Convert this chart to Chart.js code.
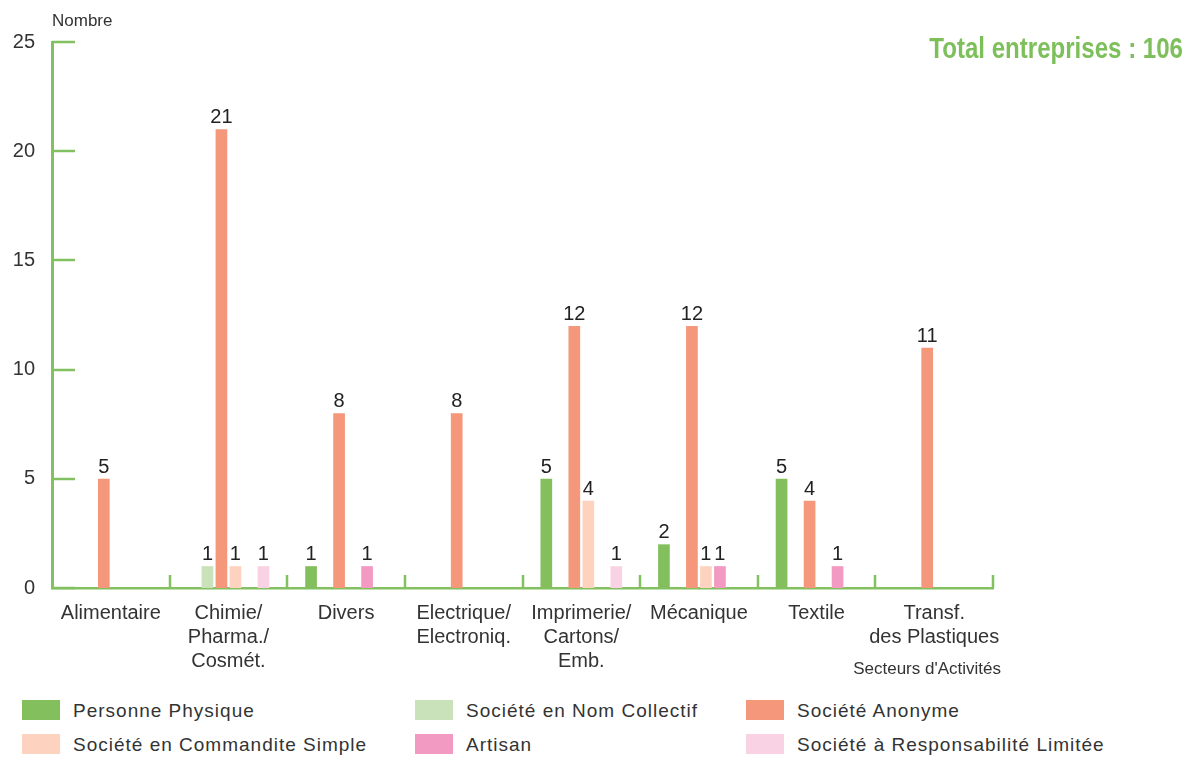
<!DOCTYPE html>
<html><head><meta charset="utf-8">
<script src="https://cdn.jsdelivr.net/npm/chart.js@4"></script>
<style>
html,body{margin:0;padding:0;background:#fff;}
#wrap{position:relative;width:1188px;height:758px;overflow:hidden;background:#fff;}
#c{position:absolute;left:0;top:0;}
.leg{position:absolute;font-family:"Liberation Sans",Arial,sans-serif;font-size:19px;letter-spacing:1px;color:#333;white-space:nowrap;line-height:20px;}
.sw{position:absolute;width:38px;height:20px;}
</style></head><body>
<div id="wrap"><canvas id="c" width="1188" height="690"></canvas><div id="legend"></div></div>
<script>
const categories = [["Alimentaire"],["Chimie/","Pharma./","Cosmét."],["Divers"],["Electrique/","Electroniq."],["Imprimerie/","Cartons/","Emb."],["Mécanique"],["Textile"],["Transf.","des Plastiques"]];
const seriesNames = ["Personne Physique","Société en Nom Collectif","Société Anonyme","Société en Commandite Simple","Artisan","Société à Responsabilité Limitée"];
const personnePhysique = [null,null,1,null,5,2,5,null];
const societeNomCollectif = [null,1,null,null,null,null,null,null];
const societeAnonyme = [5,21,8,8,12,12,4,11];
const societeCommanditeSimple = [null,1,null,null,4,1,null,null];
const artisan = [null,null,1,null,null,1,1,null];
const societeResponsabiliteLimitee = [null,1,null,null,1,null,null,null];
const yMin = 0, yMax = 25, yStep = 5;
const totalLabel = "Total entreprises : 106";
const yAxisTitle = "Nombre";
const xAxisTitle = "Secteurs d'Activités";

const seriesValues = [personnePhysique, societeNomCollectif, societeAnonyme, societeCommanditeSimple, artisan, societeResponsabiliteLimitee];
const seriesColors = ["#84bf5e","#c9e2b9","#f5977a","#fdd3bf","#f39ac2","#f9d3e3"];
const axisColor = "#82c060";
const fontMain = '"Liberation Sans", Arial, sans-serif';

const decorPlugin = {
  id: 'decor',
  afterDatasetsDraw(chart){
    const ctx = chart.ctx;
    ctx.save();
    ctx.fillStyle = '#222';
    ctx.font = '20px ' + fontMain;
    ctx.textAlign = 'center';
    ctx.textBaseline = 'alphabetic';
    chart.data.datasets.forEach((ds, di) => {
      const meta = chart.getDatasetMeta(di);
      meta.data.forEach((el, i) => {
        const v = ds.data[i];
        if (v === null || v === undefined) return;
        ctx.fillText(String(v), el.x, el.y - 6);
      });
    });
    ctx.restore();
  },
  afterDraw(chart){
    const ctx = chart.ctx, xs = chart.scales.x, ys = chart.scales.y, ca = chart.chartArea;
    ctx.save();
    ctx.strokeStyle = axisColor;
    ctx.lineWidth = 2.5;
    ys.ticks.forEach((t, i) => {
      const py = Math.round(ys.getPixelForTick(i));
      ctx.beginPath(); ctx.moveTo(ca.left, py); ctx.lineTo(ca.left + 23, py); ctx.stroke();
    });
    for (let i = 0; i < categories.length; i++) {
      const px = Math.round(xs.getPixelForValue(i + 0.5));
      ctx.beginPath(); ctx.moveTo(px, ca.bottom); ctx.lineTo(px, ca.bottom - 13); ctx.stroke();
    }
    ctx.fillStyle = '#333';
    ctx.font = '17px ' + fontMain;
    ctx.textAlign = 'left';
    ctx.textBaseline = 'alphabetic';
    ctx.fillText(yAxisTitle, ca.left, 26);
    ctx.textAlign = 'right';
    ctx.fillText(xAxisTitle, ca.right + 8, 674);
    ctx.fillStyle = '#7dbf5a';
    ctx.font = 'bold 29px ' + fontMain;
    ctx.textAlign = 'right';
    ctx.translate(1183, 58);
    ctx.scale(0.83, 1);
    ctx.fillText(totalLabel, 0, 0);
    ctx.restore();
  }
};

const chart = new Chart(document.getElementById('c'), {
  type: 'bar',
  data: {
    labels: categories,
    datasets: seriesNames.map((n, i) => ({
      label: n,
      data: seriesValues[i],
      backgroundColor: seriesColors[i],
      categoryPercentage: 0.714,
      barPercentage: 0.835
    }))
  },
  options: {
    responsive: false,
    animation: false,
    devicePixelRatio: 1,
    layout: { padding: { top: 42, right: 195, left: 0, bottom: 0 } },
    plugins: { legend: { display: false }, tooltip: { enabled: false } },
    scales: {
      x: {
        grid: { display: false },
        border: { display: true, color: axisColor, width: 2.5 },
        ticks: { color: '#333', font: { family: fontMain, size: 20, lineHeight: 1.2 }, padding: 5, maxRotation: 0, autoSkip: false },
        afterFit(s){ s.height = 102; }
      },
      y: {
        min: yMin, max: yMax,
        grid: { display: false },
        border: { display: true, color: axisColor, width: 3 },
        ticks: { stepSize: yStep, color: '#333', font: { family: fontMain, size: 20 }, padding: 9 },
        afterFit(s){ s.width = 52; }
      }
    }
  },
  plugins: [decorPlugin]
});

// HTML legend built from the datasets
const legendEl = document.getElementById('legend');
const colLeft = [22, 415, 746], rowTop = [700, 734];
chart.data.datasets.forEach((ds, i) => {
  const col = i % 3, row = Math.floor(i / 3);
  const sw = document.createElement('div');
  sw.className = 'sw';
  sw.style.left = colLeft[col] + 'px';
  sw.style.top = rowTop[row] + 'px';
  sw.style.background = ds.backgroundColor;
  legendEl.appendChild(sw);
  const t = document.createElement('div');
  t.className = 'leg';
  t.style.left = (colLeft[col] + 51) + 'px';
  t.style.top = (rowTop[row] + 1) + 'px';
  t.textContent = ds.label;
  legendEl.appendChild(t);
});
</script>
</body></html>
